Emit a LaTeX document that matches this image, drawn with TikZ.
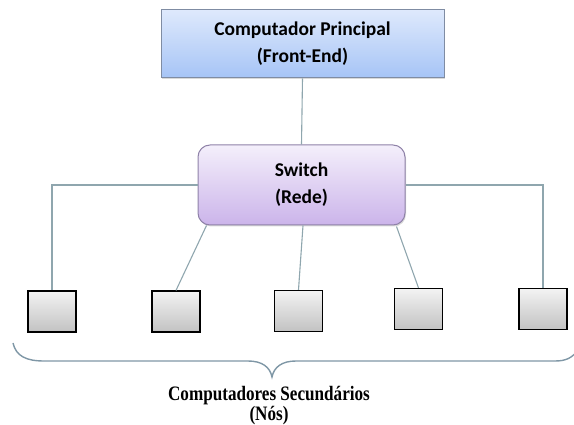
\documentclass[tikz,border=0pt]{standalone}
\usepackage{fontspec}
\setmainfont{Liberation Serif}
\newfontfamily\labelfont{Carlito}
\usetikzlibrary{shadows}
\definecolor{wire}{HTML}{8FA6AE}
\definecolor{bracecol}{HTML}{7F97A6}
\definecolor{feTop}{HTML}{DEE9FC}
\definecolor{feBot}{HTML}{A6C4F6}
\definecolor{feLine}{HTML}{7F8CA3}
\definecolor{swTop}{HTML}{F4EFFB}
\definecolor{swBot}{HTML}{CBB4EA}
\definecolor{swLine}{HTML}{8F82A8}
\definecolor{pcTop}{HTML}{F3F3F3}
\definecolor{pcBot}{HTML}{C2C2C2}
\tikzset{
  mainbox/.style={draw=feLine, line width=1pt, top color=feTop, bottom color=feBot,
    minimum width=283pt, minimum height=68pt, inner sep=0pt, align=center,
    drop shadow={shadow xshift=1pt, shadow yshift=-1.5pt, opacity=0.3},
    font=\labelfont\bfseries\fontsize{19.5}{27}\selectfont},
  hubbox/.style={draw=swLine, line width=1pt, rounded corners=12pt, top color=swTop, bottom color=swBot,
    minimum width=207pt, minimum height=80pt, inner sep=0pt, align=center,
    drop shadow={shadow xshift=1pt, shadow yshift=-1.5pt, opacity=0.3},
    font=\labelfont\bfseries\fontsize{19.5}{27}\selectfont},
  nodebox/.style={draw=black, line width=1.2pt, top color=pcTop, bottom color=pcBot,
    minimum width=48pt, minimum height=41pt, inner sep=0pt},
  wireline/.style={draw=wire, line width=1.1pt},
}
\begin{document}
\begin{tikzpicture}[x=1pt, y=-1pt]
  \useasboundingbox (0,0) rectangle (574,425);

  % front-end and switch
  \node[mainbox] (fe) at (302.5,44) {Computador Principal\\(Front-End)};
  \node[hubbox] (sw) at (301.5,185) {Switch\\(Rede)};

  % secondary computers
  \node[nodebox] (n1) at (52,311.5) {};
  \node[nodebox] (n2) at (176,311.5) {};
  \node[nodebox] (n3) at (298.5,311) {};
  \node[nodebox] (n4) at (418.5,309) {};
  \node[nodebox] (n5) at (543,309) {};

  % wiring
  \draw[wireline] (fe.south) -- (sw.north);
  \draw[wireline] (sw.west) -| (n1.north);
  \draw[wireline] (sw.east) -| (n5.north);
  \draw[wireline] ([xshift=9pt]sw.south west) -- (n2.north);
  \draw[wireline] ([xshift=1.5pt]sw.south) -- (n3.north);
  \draw[wireline] ([xshift=-9pt,yshift=-1pt]sw.south east) -- (n4.north);

  % brace under the secondary computers
  \draw[bracecol, line width=1.4pt]
    (13,343) .. controls (16,356) and (26,361) .. (44,361)
    -- (248,361) .. controls (262,361) and (270,367) .. (272,377)
    .. controls (274,367) and (282,361) .. (296,361)
    -- (555,361) .. controls (566,361) and (572,358) .. (578,350);

  \node[font=\bfseries\fontsize{20.5}{17}\selectfont, align=center, inner sep=0pt, xscale=0.835] (lbl) at (269,405.5)
    {Computadores Secundários\\(Nós)};
\end{tikzpicture}
\end{document}
